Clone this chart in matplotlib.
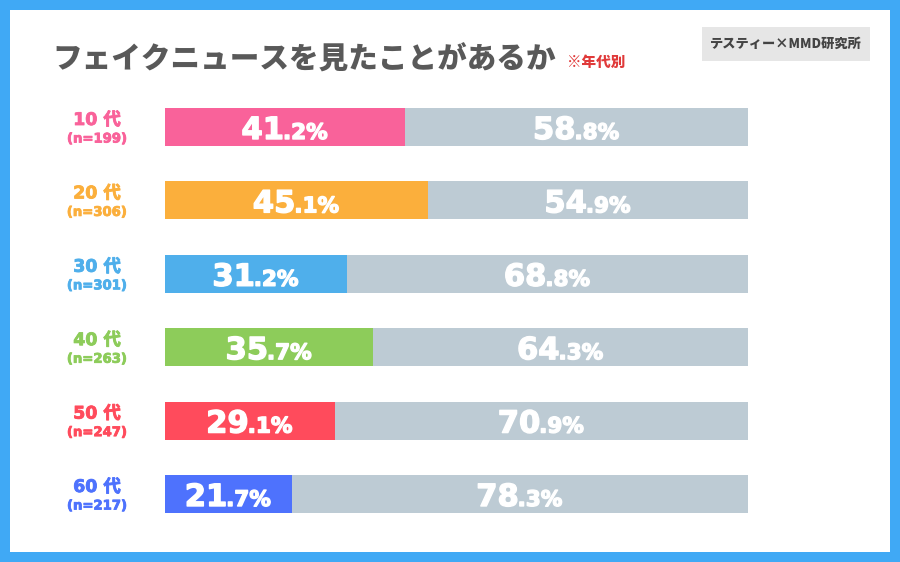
import matplotlib
matplotlib.use("Agg")
import matplotlib.pyplot as plt
from matplotlib.patches import Rectangle
import matplotlib.patheffects as pe

plt.rcParams['font.family'] = ['Noto Sans CJK JP', 'DejaVu Sans']

ages = ["10代", "20代", "30代", "40代", "50代", "60代"]
ns = ["(n=199)", "(n=306)", "(n=301)", "(n=263)", "(n=247)", "(n=217)"]
seen = [41.2, 45.1, 31.2, 35.7, 29.1, 21.7]
not_seen = [58.8, 54.9, 68.8, 64.3, 70.9, 78.3]
colors = ["#F9629A", "#FBAF3C", "#4FAFEB", "#8DCC5A", "#FF4B5C", "#4E72FD"]
gray = "#BDCBD4"

W, H = 900, 562
fig = plt.figure(figsize=(9, 5.62), dpi=100)
fig.patch.set_facecolor("#40A9F5")
# white inner panel
fig.patches.append(Rectangle((10 / W, 10 / H), 880 / W, 542 / H, transform=fig.transFigure,
                             facecolor="white", edgecolor="none", zorder=-2))

# axes: bars from x=165 to 748 px; rows centered 127..494 px
row_top = 127
row_bot = 494
step = (row_bot - row_top) / 5
ax_top_px = row_top - step / 2
ax_bot_px = row_bot + step / 2
ax = fig.add_axes([165 / W, 1 - ax_bot_px / H, (748 - 165) / W, (ax_bot_px - ax_top_px) / H])
ax.set_zorder(2)
ax.set_xlim(0, 100)
ax.set_ylim(len(ages) - 0.5, -0.5)
ax.axis("off")
ax.patch.set_alpha(0)

ypos = list(range(len(ages)))
bh = 38 / step
ax.barh(ypos, seen, height=bh, color=colors, edgecolor="none")
ax.barh(ypos, not_seen, left=seen, height=bh, color=gray, edgecolor="none")

fig.canvas.draw()
renderer = fig.canvas.get_renderer()
num_fam = ['DejaVu Sans']
heavy = [pe.withStroke(linewidth=1.0, foreground="white")]

def pct_label(xc, y, value):
    s = f"{value:.1f}"
    ip, dp = s.split(".")
    t1 = ax.text(0, y, ip, fontsize=22, fontweight="bold", color="white",
                 family=num_fam, va="baseline", path_effects=heavy)
    t2 = ax.text(0, y, "." + dp + "%", fontsize=15.5, fontweight="bold", color="white",
                 family=num_fam, va="baseline", path_effects=heavy)
    w1 = t1.get_window_extent(renderer).width
    w2 = t2.get_window_extent(renderer).width
    total = w1 + w2
    xc_px = ax.transData.transform((xc, y))[0]
    y_px = ax.transData.transform((xc, y))[1] - 12
    start = xc_px - total / 2
    inv = ax.transData.inverted()
    x1, yd = inv.transform((start, y_px))
    x2, _ = inv.transform((start + w1 - 1, y_px))
    t1.set_position((x1, yd))
    t2.set_position((x2, yd))

for i in ypos:
    pct_label(seen[i] / 2, i, seen[i])
    pct_label(seen[i] + not_seen[i] / 2, i, not_seen[i])

# category labels
lab_fam = ['DejaVu Sans', 'Noto Sans CJK JP']
for i in ypos:
    yc = row_top + i * step
    num, dai = ages[i][:2], ages[i][2:]
    st = [pe.withStroke(linewidth=0.6, foreground=colors[i])]
    fig.text(97 / W, 1 - (yc - 7) / H, num + " " + dai, ha="center", va="center",
             fontsize=12.5, fontweight="bold", color=colors[i], family=lab_fam,
             path_effects=st)
    fig.text(97 / W, 1 - (yc + 12) / H, ns[i], ha="center", va="center",
             fontsize=9.5, fontweight="bold", color=colors[i], family=lab_fam,
             path_effects=st)

# title
fig.text(52 / W, 1 - 60 / H, "フェイクニュースを見たことがあるか", ha="left", va="center",
         fontsize=21.3, fontweight="heavy", color="#595959")
fig.text(567 / W, 1 - 62 / H, "※年代別", ha="left", va="center",
         fontsize=10.5, fontweight="heavy", color="#E03A3A")

# source box
fig.patches.append(Rectangle((702 / W, 1 - 61 / H), 168 / W, 34 / H, transform=fig.transFigure,
                             facecolor="#E6E6E6", edgecolor="none", zorder=1))
fig.text(786 / W, 1 - 44 / H, "テスティー×MMD研究所", ha="center", va="center",
         fontsize=9.5, fontweight="heavy", color="#444444", zorder=2)

fig.savefig("out.png", dpi=100, facecolor=fig.get_facecolor())
